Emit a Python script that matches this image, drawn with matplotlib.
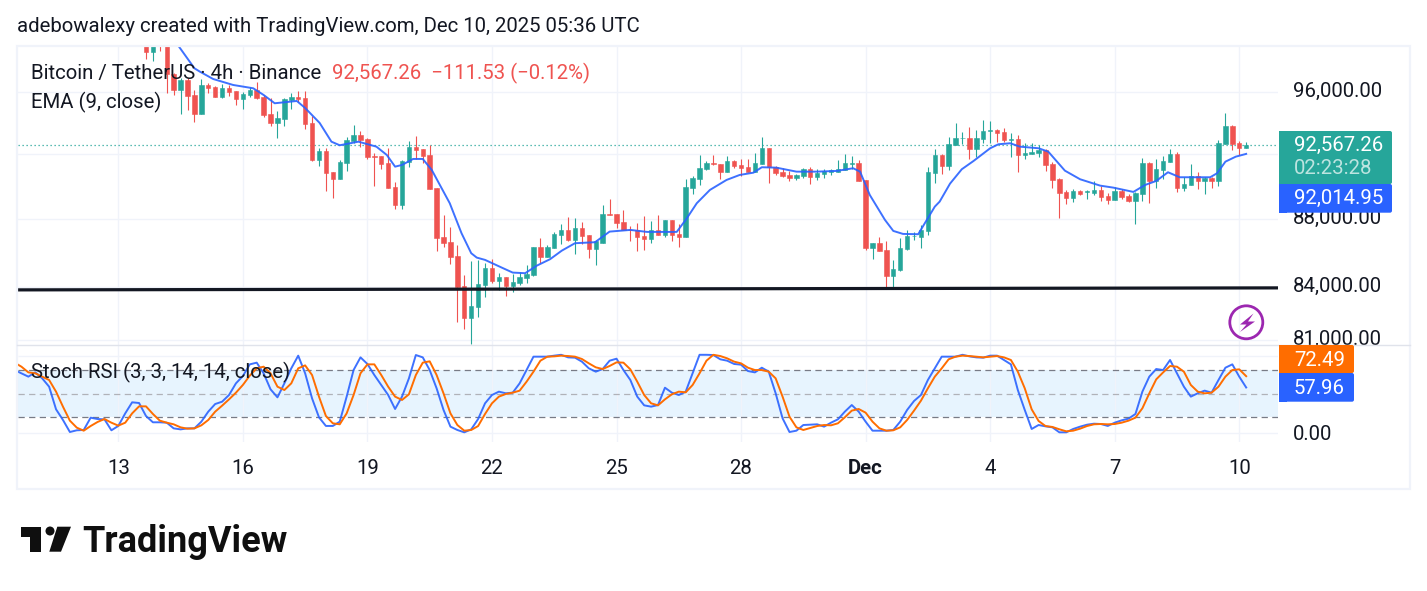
#!/usr/bin/env python3
"""BTC/USDT 4h candlestick chart with EMA(9) and a Stoch RSI pane."""

import matplotlib

matplotlib.use("Agg")

import matplotlib.pyplot as plt
from matplotlib.patches import Circle, FancyBboxPatch, Polygon, Rectangle
from matplotlib.ticker import NullLocator
from matplotlib.transforms import Bbox, ScaledTranslation

WIDTH, HEIGHT = 1427, 591
DPI = 100

TEAL = "#26a69a"
RED = "#ef5350"
BLUE = "#2962ff"
ORANGE = "#ff6d00"
PURPLE = "#9c27b0"
INK = "#131722"
GRID = "#f0f3fa"
SLASH = "#787b86"
FONT_SIZE = 14.7

# 4h candles, position 0 is the first bar of the 13th
candle_index = list(range(4, 164))

open_prices = [
    99345, 98687, 99800, 99550, 97191, 96132, 96792, 95804, 94584, 96462,
    96330, 95673, 96244, 96066, 95561, 95804, 96132, 95653, 94565, 94004,
    94261, 95496, 95673, 95607, 93965, 91633, 92200, 90884, 90468, 91464,
    92833, 93215, 92960, 91866, 91904, 91445, 89956, 88853, 91508, 92453,
    92345, 91948, 89894, 86928, 86631, 85806, 84062, 82240, 82861, 84136,
    85104, 84349, 84581, 84062, 84234, 84523, 84697, 86335, 85747, 86276,
    87048, 87346, 86749, 87466, 87048, 86217, 86572, 88290, 88308, 87826,
    87346, 87346, 86988, 86809, 87346, 87048, 87946, 87107, 86928, 89894,
    90449, 91070, 91445, 91383, 90884, 91570, 91320, 91195, 90884, 91383,
    92390, 91195, 90884, 90697, 90511, 90635, 91070, 90573, 90760, 90884,
    90884, 91008, 91402, 91445, 90387, 86276, 86572, 86158, 84639, 84987,
    86217, 86970, 86928, 87286, 90822, 91948, 91258, 92580, 93005, 93024,
    92326, 92960, 93490, 93535, 93407, 92915, 92960, 91948, 92011, 92074,
    92263, 91383, 90449, 89649, 89280, 89710, 89667, 89588, 89771, 89402,
    89158, 89710, 89402, 89097, 89526, 91445, 90325, 91008, 91508, 92011,
    89894, 90079, 90635, 90325, 90511, 90325, 92643, 93792, 92706, 92390,
]
high_prices = [
    99500, 99500, 100000, 99700, 97250, 96905, 96905, 96132, 96839, 96614,
    96416, 96528, 96462, 96066, 96020, 96350, 96640, 95804, 95588, 94759,
    95588, 95935, 96066, 96066, 94435, 92390, 92370, 90884, 91633, 93069,
    93856, 93490, 93024, 92093, 91904, 92390, 90245, 91614, 92833, 93151,
    92345, 92580, 89894, 88248, 87526, 86454, 84697, 85513, 85571, 85378,
    85612, 84813, 84581, 84772, 84854, 85279, 86335, 86868, 86454, 87227,
    87706, 88127, 88067, 87826, 87048, 86749, 88853, 89219, 88308, 88549,
    87586, 87766, 88187, 87886, 88248, 87946, 87946, 87706, 90449, 90635,
    91948, 91570, 91948, 91383, 91885, 91633, 91696, 91696, 92074, 93087,
    92390, 91258, 91133, 90946, 90760, 91133, 91195, 91070, 91070, 91070,
    91633, 92011, 91885, 91633, 90387, 86572, 86928, 86690, 85571, 86868,
    87346, 87227, 87646, 91195, 92326, 92011, 93087, 93985, 93407, 93727,
    93535, 94177, 94113, 93599, 93663, 93343, 93215, 92706, 92706, 92580,
    92326, 91508, 90511, 89771, 89833, 89771, 89771, 90325, 90017, 89588,
    89956, 89833, 89526, 89649, 91759, 91508, 91696, 91885, 92326, 92137,
    90573, 91383, 90884, 90573, 90573, 92896, 94630, 93856, 92833, 92769,
]
low_prices = [
    98195, 98081, 98754, 95955, 95784, 94584, 94824, 94068, 94584, 95955,
    95673, 95588, 95758, 95150, 94889, 95692, 95541, 94391, 93792, 93043,
    93810, 94889, 95326, 93618, 91570, 91258, 89710, 89299, 90468, 90965,
    92687, 92472, 91715, 90017, 91070, 89913, 88610, 88610, 91195, 91696,
    91445, 89833, 86100, 86335, 85337, 82015, 81622, 80789, 82296, 83448,
    84251, 83831, 83505, 83716, 84119, 84251, 84639, 85396, 85747, 86276,
    86513, 86690, 85923, 86513, 85688, 85279, 86572, 88248, 87466, 87346,
    86690, 86100, 86158, 86572, 87048, 86928, 86690, 86335, 86928, 89526,
    90079, 91008, 91320, 90449, 90884, 91133, 90635, 90884, 90884, 91383,
    90202, 90697, 90573, 90325, 90387, 90511, 90140, 90387, 90511, 90697,
    90884, 91008, 91070, 90325, 86158, 85630, 86100, 83860, 84020, 84946,
    86158, 86749, 86276, 87048, 90202, 90760, 91008, 92580, 92643, 91696,
    91822, 92706, 92706, 92769, 92790, 91822, 90884, 91696, 92011, 91822,
    90946, 89894, 88067, 88914, 89036, 89465, 89238, 89465, 89097, 88914,
    89158, 89219, 89036, 87706, 89097, 88975, 89894, 90449, 91508, 89649,
    89710, 90079, 89833, 89526, 89894, 90017, 92643, 92263, 91948, 92390,
]
close_prices = [
    98687, 99200, 99550, 97191, 96132, 96792, 95758, 94584, 96441, 96284,
    95692, 96244, 96000, 95561, 95850, 96132, 95588, 94500, 94004, 94287,
    95541, 95673, 95541, 93940, 91633, 92200, 90840, 90468, 91508, 92896,
    93215, 92896, 91822, 91822, 91402, 89913, 88853, 91570, 92453, 92263,
    91904, 89833, 86868, 86572, 85747, 84004, 82240, 82918, 84177, 85104,
    84349, 84581, 84062, 84292, 84581, 84772, 86335, 85747, 86335, 87107,
    87346, 86749, 87466, 86988, 86217, 86690, 88308, 88270, 87766, 87346,
    87316, 86928, 86809, 87346, 87048, 87946, 87048, 86928, 89956, 90511,
    91133, 91445, 91402, 90884, 91570, 91258, 91133, 90884, 91445, 92390,
    91195, 90822, 90635, 90511, 90697, 91070, 90573, 90822, 90946, 91008,
    91070, 91445, 91445, 90325, 86276, 86572, 86100, 84639, 85045, 86276,
    86988, 86988, 87346, 90884, 91948, 91258, 92643, 93024, 93024, 92326,
    93024, 93471, 93516, 93343, 92896, 92941, 91948, 92074, 92137, 92263,
    91320, 90387, 89588, 89280, 89710, 89526, 89690, 89771, 89341, 89158,
    89710, 89341, 89097, 89588, 91445, 90325, 91070, 91570, 92011, 89894,
    90140, 90635, 90325, 90511, 90325, 92706, 93792, 92643, 92390, 92567.26,
]

# EMA(9) as read along the candles
ema_index = [
    8.7, 11, 11.8, 13.7, 16.6, 19.5, 21, 22.6, 25.8, 27, 29.1, 30.8, 32, 34.7,
    37.3, 38.8, 40, 41, 42.6, 44, 45.3, 47.9, 49.6, 51, 51.8, 53, 55.6, 57,
    58.8, 60.5, 62.4, 64.1, 66, 68.9, 71, 74, 76.4, 80.7, 82.1, 83.6, 85.5,
    87.9, 89.8, 91.8, 93, 95.1, 98, 100.9, 103.8, 106.2, 107.2, 108.6, 110.8,
    112, 113.4, 115.6, 118, 118.7, 120.2, 121.9, 123.6, 126, 127.2, 128.9,
    130.3, 133, 134.4, 136.8, 139, 141.9, 143.8, 146.7, 148.4, 150, 151.7,
    153.4, 157.8, 158.8, 160, 161.5, 163,
]
ema_values = [
    99073, 97571, 97344, 96859, 96462, 96244, 95804, 95261, 95411, 94954,
    93985, 92788, 92560, 92788, 92472, 91948, 91214, 91320, 91696, 91696,
    91008, 88957, 87149, 85964, 85706, 85571, 85086, 84830, 84795, 85238,
    85612, 86117, 86554, 86613, 87245, 87346, 87227, 87227, 88006, 88957,
    89771, 90387, 90697, 90840, 91177, 91152, 90903, 90903, 90946, 91114,
    90903, 89465, 87946, 87286, 87107, 87089, 88750, 89054, 90159, 91052,
    91570, 92370, 92624, 92687, 92472, 92370, 92156, 90965, 90430, 90036,
    89913, 89649, 90079, 90325, 90865, 90554, 90554, 90803, 91527, 91841,
    92014.95,
]

# Stoch RSI, one value per candle starting before the visible prices
stoch_index = list(range(-15, 164))
stoch_k = [
    80.4, 76.2, 71.9, 77.4, 69.7, 59.0, 29.9, 16.2, 0.7, 2.9, 3.3, 19.1, 17.4,
    17.0, 2.9, 8.5, 24.7, 38.9, 38.0, 21.3, 13.2, 13.2, 12.7, 5.4, 4.1, 5.4,
    5.4, 14.0, 26.9, 36.7, 39.7, 48.3, 63.3, 72.7, 87.7, 89.9, 76.2, 55.6,
    45.3, 63.3, 82.6, 98.9, 76.2, 44.0, 19.6, 8.5, 8.5, 14.0, 46.2, 80.4,
    96.7, 88.2, 74.0, 61.2, 48.3, 30.3, 46.2, 69.7, 99.7, 96.7, 80.4, 56.9,
    29.1, 7.6, 3.3, 0.3, 4.1, 17.4, 37.6, 48.3, 52.6, 50.5, 51.3, 63.3, 80.4,
    97.6, 97.6, 97.6, 98.9, 100.0, 96.7, 96.3, 91.2, 82.6, 78.3, 81.7, 92.4,
    95.0, 80.4, 67.6, 46.2, 35.0, 33.3, 35.4, 57.7, 51.3, 48.3, 52.6, 76.2,
    100.0, 100.0, 99.7, 94.2, 92.4, 88.2, 87.3, 79.1, 77.4, 83.4, 78.3, 50.5,
    18.3, 0.7, 2.4, 9.7, 10.1, 10.6, 7.6, 12.7, 17.0, 26.9, 35.4, 26.9, 14.0,
    2.4, 2.4, 2.4, 3.3, 14.0, 29.1, 40.6, 48.3, 67.6, 82.6, 97.6, 97.6, 97.6,
    100.0, 98.0, 96.7, 96.3, 98.9, 98.9, 93.3, 87.7, 54.7, 29.1, 4.6, 9.7,
    8.0, 6.7, 0.3, 0.3, 4.6, 7.6, 10.1, 11.4, 11.0, 8.5, 12.7, 15.7, 17.9,
    23.9, 52.6, 71.9, 81.7, 80.4, 93.3, 76.2, 59.0, 46.2, 50.5, 53.9, 51.3,
    67.6, 83.4, 87.7, 71.9, 57.96,
]
stoch_d = [
    89.9, 84.7, 77.4, 76.2, 71.9, 67.6, 52.6, 33.3, 15.3, 6.3, 2.4, 8.4, 13.6,
    17.4, 12.7, 8.9, 12.7, 24.7, 33.7, 33.7, 23.9, 15.3, 12.7, 10.6, 6.7, 5.0,
    5.4, 9.3, 16.2, 26.9, 34.6, 42.7, 51.3, 61.2, 73.2, 82.6, 84.7, 76.2,
    59.0, 54.7, 63.3, 82.6, 86.4, 74.0, 46.2, 21.3, 11.9, 10.6, 24.7, 48.3,
    76.2, 87.7, 87.7, 74.0, 59.0, 46.2, 41.9, 49.2, 74.0, 89.9, 91.6, 74.0,
    50.4, 24.7, 9.7, 2.4, 3.3, 8.4, 23.9, 37.6, 46.2, 49.6, 51.3, 53.9, 65.4,
    78.3, 92.4, 97.6, 98.0, 98.9, 98.4, 97.6, 94.6, 89.0, 83.9, 81.7, 85.6,
    90.3, 89.9, 81.3, 65.4, 48.3, 37.6, 35.0, 42.7, 49.2, 52.6, 51.7, 61.2,
    76.2, 92.4, 100.0, 98.4, 95.4, 91.2, 89.0, 83.4, 80.4, 80.4, 78.3, 69.7,
    46.2, 20.4, 6.7, 3.3, 5.9, 8.4, 9.7, 9.3, 11.9, 19.6, 28.2, 30.3, 25.6,
    14.0, 5.4, 2.4, 2.9, 6.7, 16.2, 28.2, 41.0, 56.9, 71.9, 82.6, 94.2, 97.6,
    98.9, 98.4, 97.6, 96.7, 97.6, 98.4, 96.7, 93.3, 78.3, 56.9, 29.9, 14.9,
    8.4, 7.2, 4.2, 1.6, 2.4, 5.0, 8.4, 10.6, 11.0, 10.6, 11.0, 12.7, 15.3,
    19.2, 31.2, 50.4, 68.4, 77.4, 85.6, 84.7, 78.3, 61.2, 52.6, 50.4, 51.3,
    59.0, 71.9, 80.4, 81.3, 72.49,
]

# hand-drawn support line under the price
trend_index = [-14.57, 167.6]
trend_prices = [83831, 83946]

price_ticks = [96000, 92000, 88000, 84000, 81000]
# the 92,000 label would sit behind the last price tag
price_tick_labels = ["96,000.00", "", "88,000.00", "84,000.00", "81,000.00"]
time_ticks = [0, 18, 36, 54, 72, 90, 108, 126, 144, 162]
time_labels = ["13", "16", "19", "22", "25", "28", "Dec", "4", "7", "10"]
stoch_grid = [98.9, -0.9]

last_price = 92567.26
last_ema = 92014.95
last_k = 57.96
last_d = 72.49

plt.rcParams["font.family"] = ["Roboto", "DejaVu Sans"]
plt.rcParams["text.color"] = INK


def pixel_axes(fig, x0, y0, x1, y1, zorder):
    ax = fig.add_axes(
        [x0 / WIDTH, 1 - y1 / HEIGHT, (x1 - x0) / WIDTH, (y1 - y0) / HEIGHT],
        zorder=zorder,
    )
    for spine in ax.spines.values():
        spine.set_visible(False)
    ax.patch.set_alpha(0)
    return ax


def draw_candles(ax):
    up = [c >= o for o, c in zip(open_prices, close_prices)]
    colors = [TEAL if u else RED for u in up]
    ax.vlines(candle_index, low_prices, high_prices, colors=colors, linewidth=0.8, zorder=3)
    bottoms = [min(o, c) for o, c in zip(open_prices, close_prices)]
    heights = [abs(o - c) for o, c in zip(open_prices, close_prices)]
    ax.bar(
        candle_index, heights, bottom=bottoms, width=0.64, color=colors,
        edgecolor=colors, linewidth=0.4, zorder=3,
    )


def draw_price_pane(ax):
    ax.set_yscale("log")
    ax.set_xlim(trend_index)
    ax.set_ylim(80753, 99072)
    ax.yaxis.set_minor_locator(NullLocator())
    ax.set_yticks(price_ticks, price_tick_labels)
    ax.yaxis.tick_right()
    ax.tick_params(axis="y", length=0, pad=10.5, labelsize=FONT_SIZE, labelcolor=INK)
    ax.set_xticks(time_ticks)
    ax.tick_params(axis="x", length=0, labelbottom=False)
    ax.grid(color=GRID, linewidth=1.0)
    ax.set_axisbelow(True)

    # axis labels sit a little above their grid lines and stop at the pane edge
    lift = ScaledTranslation(0, 3 / DPI, ax.figure.dpi_scale_trans)
    clip = Bbox([[1279, HEIGHT - 344.5], [1409, HEIGHT]])
    for label in ax.get_yticklabels():
        label.set_transform(label.get_transform() + lift)
        label.set_clip_box(clip)
        label.set_clip_on(True)

    draw_candles(ax)
    ax.plot(ema_index, ema_values, color=BLUE, linewidth=1.4, zorder=4, alpha=0.9)
    ax.axhline(last_price, color=TEAL, linewidth=0.9, linestyle=(0, (1, 2.2)), zorder=2)
    ax.plot(trend_index, trend_prices, color=INK, linewidth=2.3, zorder=5)


def draw_stoch_pane(ax):
    ax.set_xlim(trend_index)
    ax.set_ylim(-11.5, 112.6)
    ax.axhspan(20, 80, color="#e7f4fe", linewidth=0, zorder=0)
    for level, color in ((80, SLASH), (20, SLASH), (50, "#b0b2b8")):
        ax.axhline(level, color=color, linewidth=0.9, linestyle=(0, (5, 3.5)), zorder=1)
    ax.hlines(stoch_grid, *trend_index, color=GRID, linewidth=1.0, zorder=0.5)
    ax.set_xticks(time_ticks, time_labels)
    ax.grid(axis="x", color=GRID, linewidth=1.0)
    ax.set_axisbelow(True)
    ax.tick_params(axis="x", length=0, pad=12.5, labelsize=FONT_SIZE, labelcolor=INK)
    ax.set_yticks([0], ["0.00"])
    ax.yaxis.tick_right()
    ax.tick_params(axis="y", length=0, pad=10.5, labelsize=FONT_SIZE, labelcolor=INK)
    for label in ax.get_xticklabels():
        if label.get_text() == "Dec":
            label.set_fontweight("bold")
    ax.plot(stoch_index, stoch_k, color=BLUE, linewidth=1.4, zorder=3, alpha=0.9)
    ax.plot(stoch_index, stoch_d, color=ORANGE, linewidth=1.4, zorder=4)


def value_tag(ax, x1, y0, y1, color):
    # rounded on the outer side only: square the axis side with a plain patch
    ax.add_patch(FancyBboxPatch(
        (1282, y0 + 2), x1 - 1284, y1 - y0 - 4, boxstyle="round,pad=2,rounding_size=2",
        facecolor=color, edgecolor="none", zorder=5,
    ))
    ax.add_patch(Rectangle((1279, y0), 8, y1 - y0, color=color, linewidth=0, zorder=5))


def tag_text(ax, y, text, color="white"):
    ax.text(1294, y, text, color=color, fontsize=FONT_SIZE, va="center", ha="left", zorder=6)


def draw_overlay(ax):
    ax.set_xlim(0, WIDTH)
    ax.set_ylim(HEIGHT, 0)
    ax.set_xticks([])
    ax.set_yticks([])

    # chart frame and pane separator
    ax.add_patch(Rectangle((16.5, 45.5), 1393.5, 443, fill=False, edgecolor=GRID, linewidth=1.6))
    ax.plot([17, 1410], [344.7, 344.7], color="#e0e3eb", linewidth=1.0)

    ax.text(17, 26, "adebowalexy created with TradingView.com, Dec 10, 2025 05:36 UTC",
            fontsize=FONT_SIZE, va="center", ha="left")
    ax.text(31, 73, "Bitcoin / TetherUS · 4h · Binance", fontsize=FONT_SIZE, va="center", ha="left", zorder=7)
    ax.text(332, 73, f"{last_price:,.2f}  −111.53 (−0.12%)", color=RED, fontsize=FONT_SIZE,
            va="center", ha="left", zorder=7)
    ax.text(31, 102, "EMA (9, close)", fontsize=FONT_SIZE, va="center", ha="left", zorder=7)
    ax.text(31, 372, "Stoch RSI (3, 3, 14, 14, close)", fontsize=FONT_SIZE, va="center", ha="left", zorder=7)

    # last value tags on the axes
    value_tag(ax, 1392, 131, 184, TEAL)
    value_tag(ax, 1392, 184, 212.7, BLUE)
    tag_text(ax, 145, f"{last_price:,.2f}")
    tag_text(ax, 169, "02:23:28", "#bde4e0")
    tag_text(ax, 198, f"{last_ema:,.2f}")
    value_tag(ax, 1354, 345, 373, ORANGE)
    value_tag(ax, 1354, 373, 401.7, BLUE)
    tag_text(ax, 361, f"{last_d:.2f}")
    tag_text(ax, 389, f"{last_k:.2f}")

    # lightning badge
    ax.add_patch(Circle((1246.3, 322.3), 16.5, fill=False, edgecolor=PURPLE, linewidth=2.0, zorder=7))
    ax.add_patch(Polygon(
        [(1253.5, 313.5), (1240, 324.5), (1246.5, 324.5), (1240, 332), (1255, 321.5), (1248, 321.5)],
        closed=True, color=PURPLE, linewidth=0, zorder=7,
    ))

    # logo
    ax.add_patch(Polygon(
        [(20.7, 526.7), (40.7, 526.7), (40.7, 551.7), (30.3, 551.7), (30.3, 536.7), (20.7, 536.7)],
        closed=True, color="#0f0f0f", linewidth=0,
    ))
    ax.add_patch(Circle((50, 531), 4.5, color="#0f0f0f", linewidth=0))
    ax.add_patch(Polygon(
        [(57.3, 526.7), (71, 526.7), (61, 551.7), (49.3, 551.7)],
        closed=True, color="#0f0f0f", linewidth=0,
    ))
    ax.text(82, 542, "TradingView", color="#0f0f0f", fontsize=26, fontweight="bold",
            family=["Roboto", "DejaVu Sans"], va="center", ha="left")


def main():
    fig = plt.figure(figsize=(WIDTH / DPI, HEIGHT / DPI), dpi=DPI, facecolor="white")
    price_ax = pixel_axes(fig, 17.5, 46, 1278, 344.5, 1)
    stoch_ax = pixel_axes(fig, 17.5, 345, 1278, 441.5, 2)
    overlay_ax = pixel_axes(fig, 0, 0, WIDTH, HEIGHT, 3)

    draw_price_pane(price_ax)
    draw_stoch_pane(stoch_ax)
    draw_overlay(overlay_ax)

    fig.savefig("out.png", dpi=DPI)
    plt.close(fig)


if __name__ == "__main__":
    main()
